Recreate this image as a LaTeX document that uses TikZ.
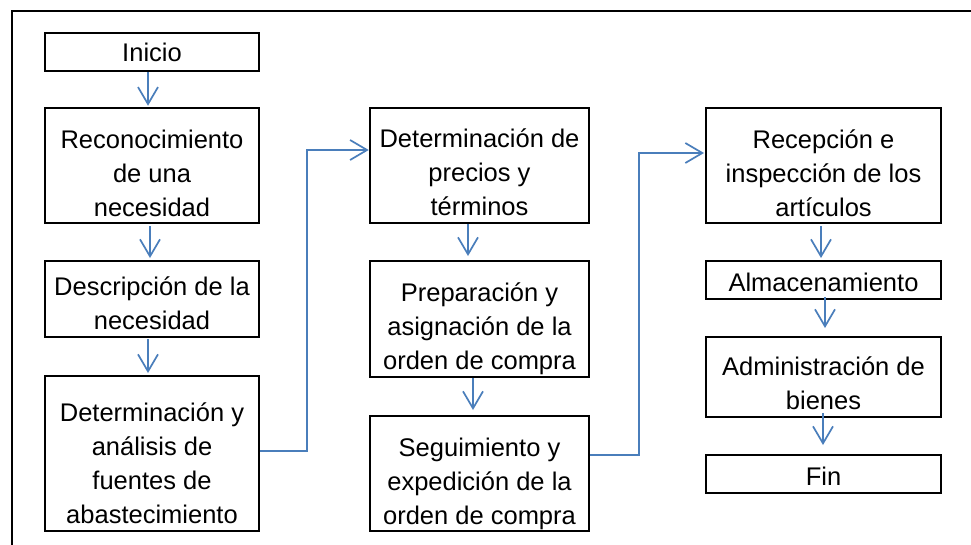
\documentclass[tikz,border=0pt]{standalone}
\usepackage{fontspec}
\setmainfont{Liberation Sans}
\usetikzlibrary{arrows.meta}
\definecolor{arrowblue}{RGB}{74,126,187}
\newcommand{\boxtext}[2]{\raisebox{-#1pt}[\height][\depth]{\begin{tabular}{@{}c@{}}#2\end{tabular}}}
\begin{document}
\begin{tikzpicture}[x=1pt,y=-1pt,
  stepbox/.style={draw=black, line width=2.5pt, inner sep=0pt, fill=white,
    font=\fontsize{25.5}{34}\selectfont, text=black},
  colA/.style={stepbox, minimum width=214pt},
  colB/.style={stepbox, minimum width=219pt},
  colC/.style={stepbox, minimum width=235pt},
  flow/.style={draw=arrowblue, line width=1.7pt,
    -{Straight Barb[length=17pt,width=20pt]}},
  link/.style={draw=arrowblue, line width=1.7pt, rounded corners=0pt,
    -{Straight Barb[length=17pt,width=20pt]}}]
\useasboundingbox (0,0) rectangle (971,544);
\fill[white] (0,0) rectangle (971,544);
% outer frame
\draw[line width=2pt] (12,550) -- (12,11) -- (980,11);
% column 1
\node[colA, minimum height=38pt]  (inicio)  at (152,52)    {\boxtext{3}{Inicio}};
\node[colA, minimum height=115pt] (recon)   at (152,165.5) {\boxtext{10}{Reconocimiento\\de una\\necesidad}};
\node[colA, minimum height=76pt]  (desc)    at (152,299)   {\boxtext{7}{Descripción de la\\necesidad}};
\node[colA, minimum height=155pt] (detan)   at (152,453.5) {\boxtext{12.5}{Determinación y\\análisis de\\fuentes de\\abastecimiento}};
% column 2
\node[colB, minimum height=115pt] (precios) at (479.5,165.5) {\boxtext{9}{Determinación de\\precios y\\términos}};
\node[colB, minimum height=116pt] (prep)    at (479.5,319)   {\boxtext{10}{Preparación y\\asignación de la\\orden de compra}};
\node[colB, minimum height=115pt] (segui)   at (479.5,473.5) {\boxtext{10}{Seguimiento y\\expedición de la\\orden de compra}};
% column 3
\node[colC, minimum height=115pt] (recep)   at (823.5,165.5) {\boxtext{10}{Recepción e\\inspección de los\\artículos}};
\node[colC, minimum height=38pt]  (alm)     at (823.5,280)   {\boxtext{5}{Almacenamiento}};
\node[colC, minimum height=80pt]  (adm)     at (823.5,377)   {\boxtext{9}{Administración de\\bienes}};
\node[colC, minimum height=38pt]  (fin)     at (823.5,474)   {\boxtext{5}{Fin}};
% vertical connectors
\draw[flow, shorten >=1pt] ([xshift=-4pt]inicio.south) -- ([xshift=-4pt]recon.north);
\draw[flow, shorten <=1.75pt, shorten >=1.75pt] ([xshift=-2pt]recon.south) -- ([xshift=-2pt]desc.north);
\draw[flow, shorten <=0.75pt, shorten >=1.75pt] ([xshift=-4pt]desc.south) -- ([xshift=-4pt]detan.north);
\draw[flow, shorten >=3.75pt] ([xshift=-11.5pt]precios.south) -- ([xshift=-11.5pt]prep.north);
\draw[flow, shorten >=4.75pt] ([xshift=-6.5pt]prep.south) -- ([xshift=-6.5pt]segui.north);
\draw[flow, shorten <=1.75pt, shorten >=1.75pt] ([xshift=-2.5pt]recep.south) -- ([xshift=-2.5pt]alm.north);
\draw[flow, shorten <=-3.25pt, shorten >=7.75pt] ([xshift=1.5pt]alm.south) -- ([xshift=1.5pt]adm.north);
\draw[flow, shorten <=-5.25pt, shorten >=8.75pt] ([xshift=-0.5pt]adm.south) -- ([xshift=-0.5pt]fin.north);
% column links
\draw[link] ([yshift=2.5pt]detan.east) -- ++(47,0) |- ([yshift=15.5pt]precios.west);
\draw[link, shorten >=0.75pt] ([yshift=18.5pt]segui.east) -- ++(49,0) |- ([yshift=12.5pt]recep.west);
\end{tikzpicture}
\end{document}
